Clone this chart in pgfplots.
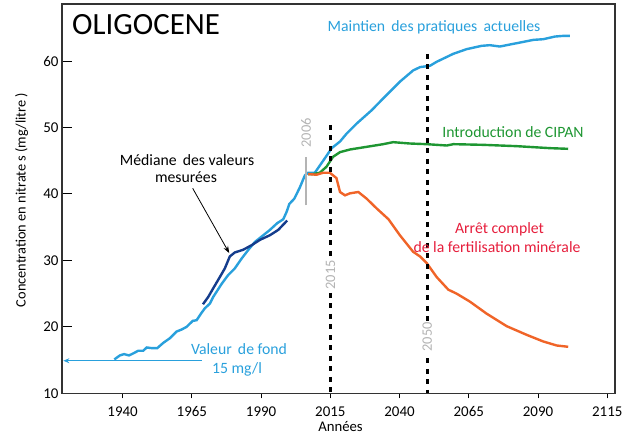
\documentclass[border=0pt]{standalone}
\usepackage{pgfplots}
\pgfplotsset{compat=1.18}
\usepackage{fontspec}
\setmainfont{Carlito}
\usetikzlibrary{arrows.meta}
\definecolor{lblue}{RGB}{41,160,220}
\definecolor{dblue}{RGB}{20,60,140}
\definecolor{cgreen}{RGB}{30,150,50}
\definecolor{corange}{RGB}{240,100,40}
\definecolor{cred}{RGB}{230,30,60}
\definecolor{cgrey}{RGB}{180,180,180}
\begin{document}
\begin{tikzpicture}
\begin{axis}[
  scale only axis, width=553bp, height=389.3bp,
  anchor=south west, at={(62bp,42.7bp)},
  xmin=1918.1, xmax=2117.8, ymin=10, ymax=68.6,
  xtick={1940,1965,...,2115}, ytick={10,20,...,60},
  xtick pos=bottom, ytick pos=left,
  xtick align=outside, ytick align=inside,
  major tick length=10bp,
  xtick style={/pgfplots/major tick length=5bp},
  tick style={line width=1bp, black},
  axis line style={line width=1.2bp, black!80},
  /pgf/number format/assume math mode=true,
  /pgf/number format/1000 sep={},
  ticklabel style={font=\fontsize{15}{17}\selectfont},
  clip=false,
]
\addplot[lblue, line width=2.4bp] coordinates {
(1937.0,15.1) (1939,15.7) (1940.5,15.9) (1942.3,15.7) (1943.8,16.0) (1945.6,16.4) (1947.4,16.4) (1948.7,16.9) (1950.5,16.8) (1952.5,16.8) (1954.7,17.6) (1957.1,18.3) (1959.5,19.3) (1961.3,19.6) (1963.1,20.0) (1965.3,20.9) (1966.7,21.0) (1968.3,22.0) (1969.7,22.8) (1971.5,23.5) (1972.7,24.5) (1975.8,26.5) (1978.1,27.8) (1980.5,28.8) (1983,30.3) (1985.4,31.6) (1987.8,32.8) (1990.2,33.6) (1993.2,34.6) (1995.8,35.6) (1998,36.2) (1999.2,37.3) (2000.2,38.5) (2002,39.3) (2004,41.0) (2005.8,42.8) (2007,43.2) (2009.4,43.2) (2012.4,45.0) (2015.5,46.9) (2018.5,47.9) (2020.9,49.1) (2024.5,50.6) (2029.9,52.6) (2035.3,54.9) (2040.1,56.9) (2044.9,58.6) (2047.4,59.1) (2051,59.3) (2053.4,59.9) (2059.4,61.1) (2064.2,61.8) (2069.6,62.3) (2072.6,62.4) (2076.2,62.2) (2082.3,62.7) (2088.3,63.2) (2091.9,63.3) (2096.1,63.7) (2099.1,63.8) (2101.5,63.8)
};
\addplot[dblue, line width=2.4bp] coordinates {
(1969,23.4) (1970.9,24.5) (1972.7,25.8) (1975.1,27.5) (1976.9,28.8) (1978.7,30.6) (1980.5,31.2) (1983.5,31.6) (1986.6,32.3) (1989.6,33.1) (1993.2,33.8) (1996.2,34.6) (1999.4,36.0)
};
\addplot[cgreen, line width=2.4bp] coordinates {
(2007,43.0) (2008.8,43.0) (2011.2,43.2) (2013.6,44.1) (2016,45.6) (2018.5,46.3) (2022.1,46.7) (2028.1,47.1) (2034.1,47.5) (2037.7,47.8) (2043.7,47.6) (2049.8,47.5) (2057,47.3) (2059.4,47.5) (2070.2,47.4) (2082.3,47.2) (2094.3,46.9) (2100.9,46.8)
};
\addplot[corange, line width=2.4bp] coordinates {
(2007,43.0) (2010,42.9) (2012.4,43.2) (2014.8,43.2) (2017.2,42.4) (2018.5,40.3) (2020.3,39.8) (2022.1,40.1) (2025.1,40.3) (2028.1,39.3) (2031.8,37.8) (2036,36.2) (2040.1,33.8) (2044.9,31.3) (2047.4,30.6) (2049.8,29.6) (2053.4,27.5) (2057.6,25.6) (2060.6,25.0) (2065.4,23.8) (2071.4,22.0) (2078.7,20.1) (2085.9,18.8) (2091.9,17.8) (2096.7,17.2) (2100.9,17.0)
};
% 2006 marker
\addplot[cgrey, line width=2.5bp] coordinates {(2006.2,38.3) (2006.2,45.5)};
% dotted verticals
\addplot[black, line width=2.8bp, dash pattern=on 5bp off 5.5bp] coordinates {(2015,50.4) (2015,10)};
\addplot[black, line width=2.8bp, dash pattern=on 5bp off 5.5bp] coordinates {(2050,61.1) (2050,10)};
% background value arrow
\addplot[lblue, line width=1.3bp, -{Stealth[length=6bp,width=5bp]}] coordinates {(1968.6,14.9) (1918.6,14.9)};
% annotation arrow
\addplot[black, line width=0.8bp, -{Stealth[length=7bp,width=5bp]}] coordinates {(1965.3,40.85) (1978.5,31.1)};
\end{axis}
\pgfresetboundingbox
\useasboundingbox (0,0) rectangle (635bp,436bp);
\node[anchor=base west, inner sep=0, font=\fontsize{31}{34}\selectfont] at (72bp,401bp) {OLIGOCENE};
\node[anchor=base, inner sep=0, text=lblue, font=\fontsize{15.8}{18}\selectfont] at (434bp,404bp) {Maintien\, des pratiques\, actuelles};
\node[anchor=base, inner sep=0, text=cgreen, font=\fontsize{15.8}{18}\selectfont] at (513bp,298bp) {Introduction de CIPAN};
\node[anchor=base, inner sep=0, text=cred, font=\fontsize{15.8}{18}\selectfont] at (499.5bp,202.7bp) {Arrêt complet};
\node[anchor=base, inner sep=0, text=cred, font=\fontsize{15.8}{18}\selectfont] at (497bp,183.7bp) {de la fertilisation minérale};
\node[anchor=base, inner sep=0, font=\fontsize{15.8}{18}\selectfont] at (187bp,270.3bp) {Médiane\, des valeurs};
\node[anchor=base, inner sep=0, font=\fontsize{15.8}{18}\selectfont] at (186bp,253bp) {mesurées};
\node[anchor=base, inner sep=0, text=lblue, font=\fontsize{15.8}{18}\selectfont] at (239bp,81bp) {Valeur\, de fond};
\node[anchor=base, inner sep=0, text=lblue, font=\fontsize{15.8}{18}\selectfont] at (237bp,62.7bp) {15 mg/l};
\node[rotate=90, inner sep=1bp, text=cgrey, font=\fontsize{14.5}{16}\selectfont] at (306bp,303bp) {2006};
\node[rotate=90, inner sep=1.5bp, fill=white, text=cgrey, font=\fontsize{14.5}{16}\selectfont] at (330.4bp,161bp) {2015};
\node[rotate=90, inner sep=1.5bp, fill=white, text=cgrey, font=\fontsize{14.5}{16}\selectfont] at (427.3bp,99.3bp) {2050};
\node[anchor=base, inner sep=0, font=\fontsize{14.8}{16}\selectfont] at (340.5bp,5bp) {Années};
\node[rotate=90, inner sep=0, font=\fontsize{14.4}{16}\selectfont] at (21.5bp,236bp) {Concentration en nitrate s (mg/litre )};
\end{tikzpicture}
\end{document}
